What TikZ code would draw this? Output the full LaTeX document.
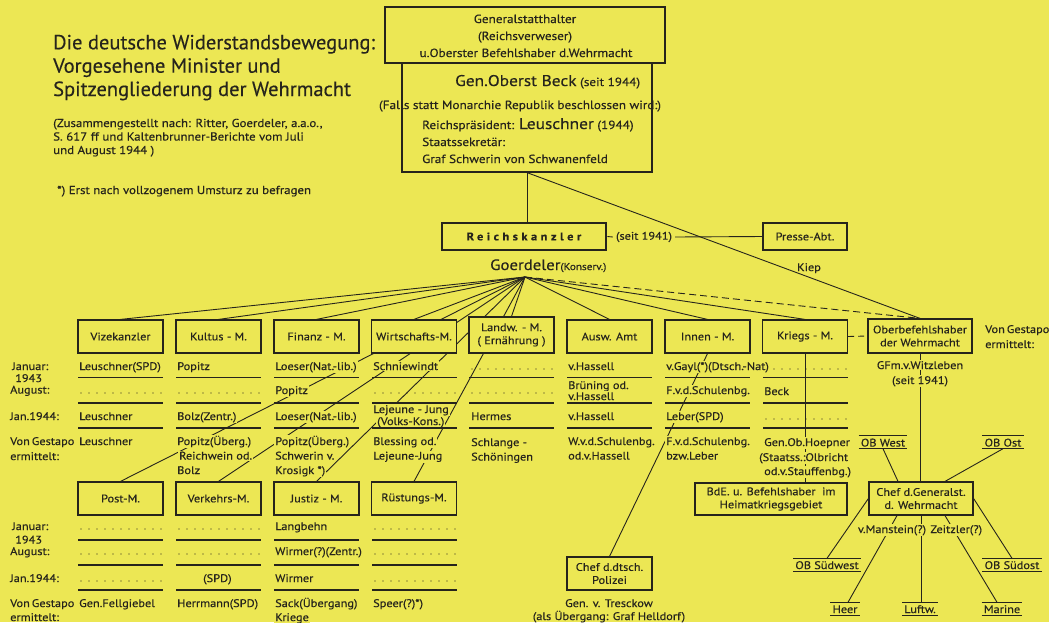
\documentclass[tikz,border=0pt]{standalone}
\usepackage{fontspec}
\setmainfont{PT Sans}[FakeStretch=1.12, FakeBold=0.35]
\newfontfamily\titlefont{PT Sans}[FakeBold=0.3]
\usetikzlibrary{calc}
\definecolor{bg}{RGB}{236,231,84}
\definecolor{ink}{RGB}{38,36,28}
\pgfdeclarelayer{back}
\pgfdeclarelayer{wires}
\pgfsetlayers{back,wires,main}
\newcommand\myfs{\fontsize{11}{13}\selectfont}
\newcommand\myft{\titlefont\fontsize{20.5}{23}\selectfont}
\newcommand\myfm{\fontsize{10}{12}\selectfont}
\newcommand\myfsub{\fontsize{11.5}{13}\selectfont}
\newcommand\myftop{\fontsize{11.8}{14}\selectfont}
\begin{document}
\begin{tikzpicture}[x=1pt,y=-1pt,every node/.append style={text=ink}]
\tikzset{
 mbox/.style={draw=ink, line width=1.2pt, fill=bg, minimum width=85pt, minimum height=33pt, inner sep=1pt, align=center, font=\myfs},
 cell/.style={anchor=base west, fill=bg, inner sep=1pt, font=\myfs},
 lab/.style={anchor=base west, inner sep=0pt, font=\myfs},
 ctr/.style={anchor=base, inner sep=1pt, font=\myfs},
 wire/.style={draw=ink, line width=0.9pt},
 sepl/.style={draw=ink, line width=1.6pt},
 dotrow/.style={draw=ink, line width=1.4pt, line cap=round, dash pattern=on 0pt off 8pt},
 obl/.style={anchor=base, font=\myfs, inner xsep=2pt, inner ysep=2pt, text height=8.5pt, text depth=0pt, fill=bg,
   append after command={(\tikzlastnode.north west) edge[draw=ink, line width=1.2pt] (\tikzlastnode.north east)
   (\tikzlastnode.south west) edge[draw=ink, line width=1.2pt] (\tikzlastnode.south east)}}
}
\begin{pgfonlayer}{back}
\fill[bg] (0,0) rectangle (1049,622);
\end{pgfonlayer}
\useasboundingbox (0,0) rectangle (1049,622);

% ---------- title ----------
\node[lab, font=\myft] (t1) at (53,49.3) {Die deutsche Widerstandsbewegung:};
\node[lab, font=\myft] (t2) at (53,72.7) {Vorgesehene Minister und};
\node[lab, font=\myft] (t3) at (53,96) {Spitzengliederung der Wehrmacht};
\node[lab, font=\myfsub] (s1) at (53,127) {(Zusammengestellt nach: Ritter, Goerdeler, a.a.o.,};
\node[lab, font=\myfsub] (s2) at (53,140.5) {S. 617 ff und Kaltenbrunner-Berichte vom Juli};
\node[lab, font=\myfsub] (s3) at (53,154) {und August 1944 )};
\node[lab, font=\myfsub] (fn) at (57,194) {*) Erst nach vollzogenem Umsturz zu befragen};

% ---------- top ----------
\node[draw=ink, line width=1.2pt, minimum width=250pt, minimum height=109pt, inner sep=0pt] (b2) at (527,117.5) {};
\node[draw=ink, line width=2.6pt, minimum width=280pt, minimum height=56pt, inner sep=0pt] (b1) at (525,35) {};
\node[ctr, font=\myftop] (b1a) at (525,23) {Generalstatthalter};
\node[ctr, font=\myftop] (b1b) at (525,40) {(Reichsverweser)};
\node[ctr, font=\myftop] (b1c) at (526,57) {u.Oberster Befehlshaber d.Wehrmacht};
\node[lab, font=\myftop] (b2a) at (455,86) {{\fontsize{15.5}{18}\selectfont Gen.Oberst Beck} (seit 1944)};
\node[ctr, font=\myftop] (b2b) at (520,109) {(Falls statt Monarchie Republik beschlossen wird:)};
\node[lab, font=\myftop] (b2c) at (422,129) {Reichspräsident: {\fontsize{15.5}{18}\selectfont Leuschner} (1944)};
\node[lab, font=\myftop] (b2d) at (422,146) {Staatssekretär:};
\node[lab, font=\myftop] (b2e) at (422,163) {Graf Schwerin von Schwanenfeld};

\node[draw=ink, line width=2.6pt, fill=bg, minimum width=164pt, minimum height=27pt, inner sep=0pt, font=\myfs\bfseries] (rk) at (524,236.5) {\addfontfeature{LetterSpace=32}Reichskanzler};
\node[inner sep=3pt, font=\myfs] (seit) at (644,237) {(seit 1941)};
\node[draw=ink, line width=1.2pt, fill=bg, minimum width=84pt, minimum height=27pt, inner sep=0pt, font=\myfs] (pr) at (805,236.5) {Presse-Abt.};
\node[ctr] (kiep) at (809,271) {Kiep};
\node[lab] (goe) at (490,270) {{\fontsize{15}{18}\selectfont Goerdeler}{\myfm(Konserv.)}};
\coordinate (fan) at (525,277);

% ---------- ministry boxes ----------
\node[mbox] (vk) at (120.5,336.5) {Vizekanzler};
\node[mbox] (ku) at (218.5,336.5) {Kultus - M.};
\node[mbox] (fi) at (316.5,336.5) {Finanz - M.};
\node[mbox] (wi) at (414,336.5) {Wirtschafts-M.};
\node[mbox, minimum height=36pt] (la) at (511.5,335) {Landw. - M.\\( Ernährung )};
\node[mbox] (au) at (609.5,336.5) {Ausw. Amt};
\node[mbox] (inn) at (707.5,336.5) {Innen - M.};
\node[mbox] (kr) at (805,336.5) {Kriegs - M.};
\node[mbox, minimum width=104pt, minimum height=34pt] (ob) at (920,336) {Oberbefehlshaber\\der Wehrmacht};
\node[lab] (vg1) at (985,333) {Von\hspace{2pt}Gestapo};
\node[lab] (vg2) at (985,348) {ermittelt:};

\node[mbox] (post) at (120.5,498.5) {Post-M.};
\node[mbox] (verk) at (218.5,498.5) {Verkehrs-M.};
\node[mbox] (just) at (316.5,498.5) {Justiz - M.};
\node[mbox] (rue) at (414,498.5) {Rüstungs-M.};

\node[mbox, minimum width=104pt] (chef) at (921,498.5) {Chef d.Generalst.\\d. Wehrmacht};
\node[mbox, minimum width=152pt, minimum height=32pt] (bde) at (771,499) {BdE. u. Befehlshaber\ \ im\\Heimatkriegsgebiet};
\node[mbox] (pol) at (609.5,573.5) {Chef d.dtsch.\\Polizei};
\node[ctr] (pol1) at (609,607) {Gen. v. Tresckow};
\node[ctr] (pol2) at (609,620) {(als Übergang: Graf Helldorf)};

% ---------- row labels ----------
\node[lab] (l1) at (12,370) {Januar:};
\node[lab] (l2) at (15,382) {1943};
\node[lab] (l3) at (10,393.5) {August:};
\node[lab] (l4) at (10,420) {Jan.1944:};
\node[lab] (l5) at (10,445) {Von\hspace{2pt}Gestapo};
\node[lab] (l6) at (10,460) {ermittelt:};
\node[lab] (m1) at (12,530) {Januar:};
\node[lab] (m2) at (15,543.5) {1943};
\node[lab] (m3) at (10,555) {August:};
\node[lab] (m4) at (10,582) {Jan.1944:};
\node[lab] (m5) at (10,607) {Von\hspace{2pt}Gestapo};
\node[lab] (m6) at (10,621) {ermittelt:};

% ---------- first table cells ----------
\node[cell] (a1) at (78,370) {Leuschner(SPD)};
\node[cell] (a3) at (78,420) {Leuschner};
\node[cell] (a4) at (78,445) {Leuschner};
\node[cell] (b1x) at (176,370) {Popitz};
\node[cell] (b3) at (176,420) {Bolz(Zentr.)};
\node[cell] (b4) at (176,445) {Popitz(Überg.)};
\node[cell] (b5) at (178,459.5) {Reichwein od.};
\node[cell] (b6) at (176,474) {Bolz};
\node[cell] (c1) at (274,370) {Loeser(Nat.-lib.)};
\node[cell] (c2) at (274,394) {Popitz};
\node[cell] (c3) at (274,420) {Loeser(Nat.-lib.)};
\node[cell] (c4) at (274,445) {Popitz(Überg.)};
\node[cell] (c5) at (274,459.5) {Schwerin v.};
\node[cell] (c6) at (274,474) {Krosigk *)};
\node[cell] (d1) at (372,370) {Schniewindt};
\node[cell] (d3) at (372,413) {Lejeune - Jung};
\node[cell] (d3b) at (376,425) {(Volks-Kons.)};
\node[cell] (d4) at (372,445) {Blessing od.};
\node[cell] (d5) at (372,459.5) {Lejeune-Jung};
\node[cell] (e3) at (470,420) {Hermes};
\node[cell] (e4) at (470,446) {Schlange -};
\node[cell] (e5) at (470,460.5) {Schöningen};
\node[cell] (f1) at (567,370) {v.Hassell};
\node[cell] (f2) at (567,389) {Brüning od.};
\node[cell] (f2b) at (567,400) {v.Hassell};
\node[cell] (f3) at (567,420) {v.Hassell};
\node[cell] (f4) at (567,445) {W.v.d.Schulenbg.};
\node[cell] (f5) at (567,459.5) {od.v.Hassell};
\node[cell] (g1) at (665,370) {v.Gayl(*)(Dtsch.-Nat)};
\node[cell] (g2) at (665,394) {F.v.d.Schulenbg.};
\node[cell] (g3) at (665,420) {Leber(SPD)};
\node[cell] (g4) at (665,445) {F.v.d.Schulenbg.};
\node[cell] (g5) at (665,459.5) {bzw.Leber};
\node[cell] (h2) at (763,395) {Beck};
\node[cell] (h4) at (763,446) {Gen.Ob.Hoepner};
\node[cell] (h5) at (758,461) {(Staatss.:Olbricht};
\node[cell] (h6) at (763,475) {od.v.Stauffenbg.)};
\node[ctr, fill=bg] (w1) at (920,369) {GFm.v.Witzleben};
\node[ctr, fill=bg] (w2) at (920,384) {(seit 1941)};

% ---------- second table cells ----------
\node[cell] (p4) at (78,607) {Gen.Fellgiebel};
\node[cell] (q3) at (202,582) {(SPD)};
\node[cell] (q4) at (176,607) {Herrmann(SPD)};
\node[cell] (r1) at (274,530) {Langbehn};
\node[cell] (r2) at (274,555) {Wirmer(?)(Zentr.)};
\node[cell] (r3) at (274,582) {Wirmer};
\node[cell] (r4) at (274,607) {Sack(Übergang)};
\node[cell] (r5) at (274,621) {Kriege};
\node[cell] (u4) at (372,607) {Speer(?)*)};

% ---------- Wehrmacht branch ----------
\node[obl] (obw) at (883,446.5) {OB West};
\node[obl] (obo) at (1003,446.5) {OB Ost};
\node[obl] (obsw) at (827,569) {OB Südwest};
\node[obl] (obso) at (1012,569) {OB Südost};
\node[obl] (heer) at (845,613) {Heer};
\node[obl] (luft) at (920,613) {Luftw.};
\node[obl] (mar) at (1002,613) {Marine};
\node[ctr, fill=bg] (mz) at (920,533) {v.Manstein(?) Zeitzler(?)};

% ---------- separators and dots ----------
\foreach \c in {78,176,274,372,469,567,665,763}
  \foreach \y in {377.5,403,428}
    \draw[sepl] (\c,\y) -- ++(85,0);
\foreach \c in {78,176,274,372}
  \foreach \y in {540,565,590}
    \draw[sepl] (\c,\y) -- ++(85,0);
\foreach \c/\y in {78/393,176/393,372/393,469/369,469/393,763/419,78/529,78/554,78/581,176/529,176/554,372/529,372/554,372/581}
  \draw[dotrow] (\c+3,\y) -- ++(81,0);
\draw[dotrow] (774,369) -- (846,369);

% ---------- connectors ----------
\begin{pgfonlayer}{wires}
\draw[wire] (b2.south) -- (b2.south |- rk.north);
\draw[wire] (b2.south) -- (ob.north);
\draw[wire] (rk.east) -- (seit.west);
\draw[wire] (seit.east) -- (pr.west);
\foreach \n in {vk,ku,fi,wi,la,au,inn,kr,post,verk,just,rue}
  \draw[wire] (fan) -- (\n.north);
\draw[wire, dash pattern=on 7pt off 4pt] (fan) -- (ob.north);
\draw[wire, dash pattern=on 6pt off 4pt] (kr.east) -- (ob.west);
\draw[wire] (kr.south) -- (kr.south |- bde.north);
\draw[wire] (inn.south) -- (pol.north);
\draw[wire] (ob.south) -- (ob.south |- chef.north);
\draw[wire] (obw.south) -- ($(chef.north)+(-23,0)$);
\draw[wire] (obo.south) -- ($(chef.north)+(24,0)$);
\draw[wire] (chef.west) -- (obsw.north);
\draw[wire] (chef.east) -- (obso.north);
\draw[wire] ($(chef.south)+(-24,0)$) -- ($(heer.north)+(3,0)$);
\draw[wire] (chef.south) -- (chef.south |- luft.north);
\draw[wire] ($(chef.south)+(24,0)$) -- ($(mar.north)+(-5,0)$);
\end{pgfonlayer}
\end{tikzpicture}
\end{document}
